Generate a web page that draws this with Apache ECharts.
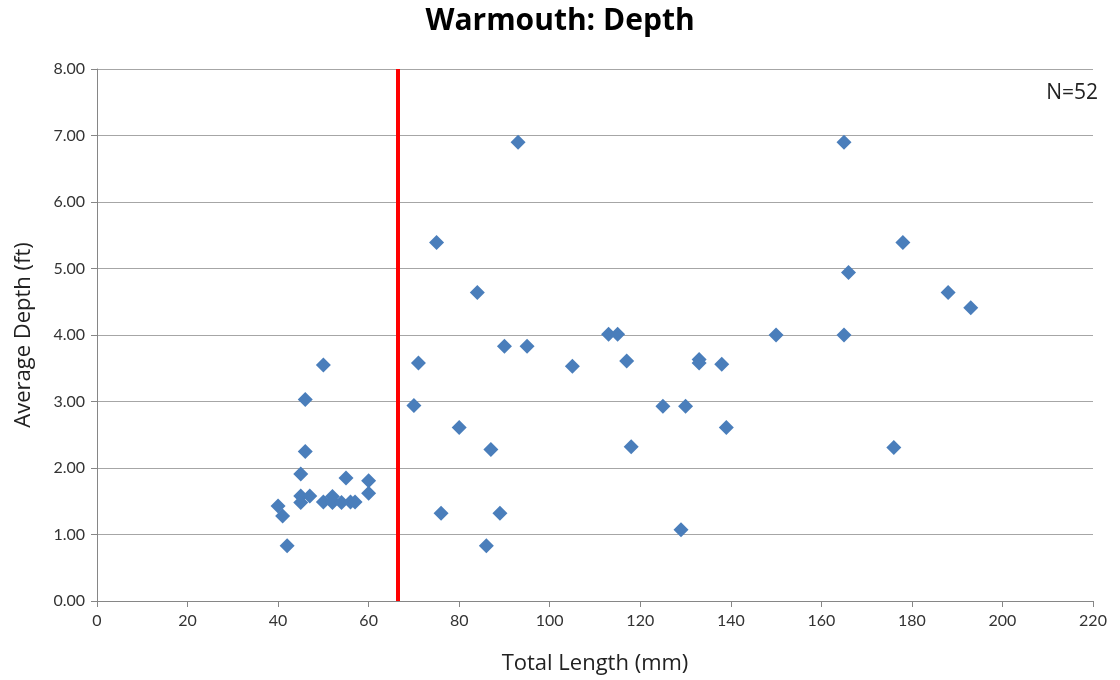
<!DOCTYPE html>
<html>
<head>
<meta charset="utf-8">
<script src="https://cdn.jsdelivr.net/npm/echarts@6/dist/echarts.min.js"></script>
<style>html,body{margin:0;padding:0;background:#fff}#c{width:1120px;height:680px}</style>
</head>
<body>
<div id="c"></div>
<script>
const lengths = [40,41,42,45,45,45,46,46,47,50,50,52,52,52,54,55,56,57,60,60,
  70,71,75,76,80,84,86,87,89,90,93,95,105,
  113,115,117,118,125,129,130,133,133,138,139,
  150,165,165,166,176,178,188,193];
const depths = [1.43,1.28,0.83,1.91,1.58,1.48,3.03,2.25,1.58,3.55,1.49,1.57,1.48,1.50,1.48,1.85,1.49,1.49,1.81,1.62,
  2.94,3.58,5.39,1.32,2.61,4.64,0.83,2.28,1.32,3.83,6.90,3.83,3.53,
  4.01,4.01,3.61,2.32,2.93,1.07,2.93,3.63,3.58,3.56,2.61,
  4.00,6.90,4.00,4.94,2.31,5.39,4.64,4.41];
const cutoff = 66.5;
const xTicks = {min:0, max:220, interval:20};
const yTicks = {min:0, max:8, interval:1};
const title = 'Warmouth: Depth';
const nLabel = 'N=52';

const pts = lengths.map((x,i)=>[x, depths[i]]);
const font = 'Lato, "Open Sans", sans-serif';
const nameFont = '"Open Sans", sans-serif';
const chart = echarts.init(document.getElementById('c'));
chart.setOption({
  animation:false,
  backgroundColor:'#fff',
  title:{text:title,left:'center',top:1,textStyle:{fontFamily:nameFont,fontSize:30,fontWeight:'bold',color:'#000'}},
  grid:{left:97,right:27,top:69,bottom:79,containLabel:false},
  xAxis:{type:'value',min:xTicks.min,max:xTicks.max,interval:xTicks.interval,
    name:'Total Length (mm)',nameLocation:'middle',nameGap:52,
    nameTextStyle:{fontFamily:nameFont,fontSize:22,color:'#222'},
    axisLine:{show:true,lineStyle:{color:'#868686',width:1}},
    axisTick:{show:true,length:6,lineStyle:{color:'#868686'}},
    axisLabel:{fontFamily:font,fontSize:16,color:'#333',margin:12},
    splitLine:{show:false}},
  yAxis:{type:'value',min:yTicks.min,max:yTicks.max,interval:yTicks.interval,
    name:'Average Depth (ft)',nameLocation:'middle',nameGap:62,
    nameTextStyle:{fontFamily:nameFont,fontSize:22,color:'#222'},
    axisLine:{show:true,lineStyle:{color:'#868686',width:1}},
    axisTick:{show:true,length:6,lineStyle:{color:'#868686'}},
    axisLabel:{fontFamily:font,fontSize:16,color:'#333',margin:12,formatter:v=>v.toFixed(2)},
    splitLine:{show:true,lineStyle:{color:'#a6a6a6',width:1}}},
  graphic:[{type:'text',right:22,top:83,style:{text:nLabel,font:'21px '+nameFont,fill:'#222'}}],
  series:[{type:'scatter',data:pts,symbol:'diamond',symbolSize:15,
    itemStyle:{color:'#4a7ebb',opacity:1},
    markLine:{silent:true,symbol:'none',label:{show:false},
      lineStyle:{color:'#ff0000',width:4,type:'solid'},
      data:[[{coord:[cutoff,yTicks.min]},{coord:[cutoff,yTicks.max]}]]}}]
});
</script>
</body>
</html>
